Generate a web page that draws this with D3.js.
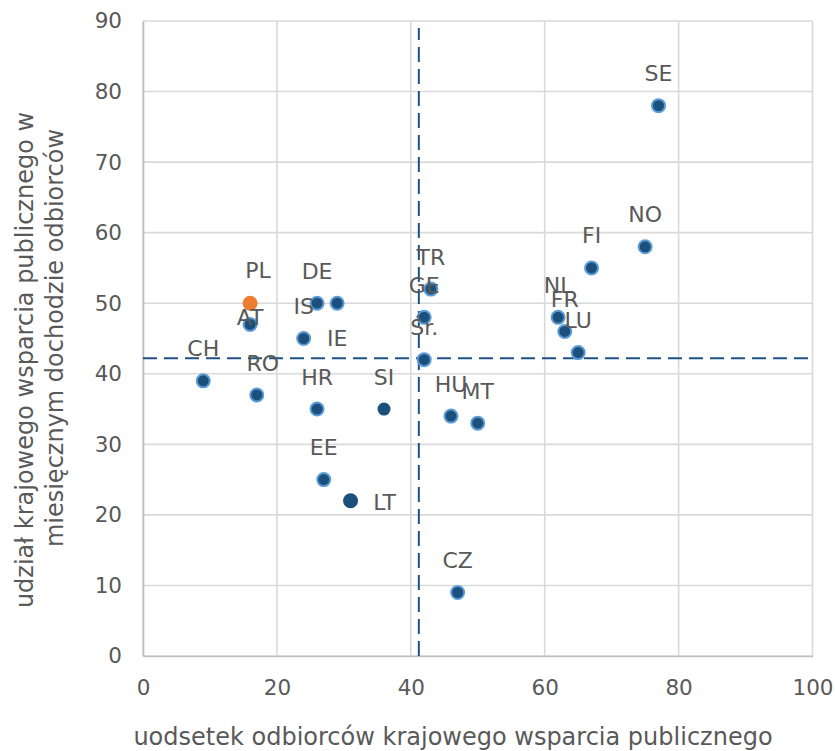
<!DOCTYPE html>
<html><head><meta charset="utf-8">
<script src="https://cdn.jsdelivr.net/npm/d3@7"></script>
<style>body{margin:0;background:#fff}svg{display:block}text{font-family:"DejaVu Sans",sans-serif;fill:#595959}</style>
</head><body>
<svg id="c" width="835" height="751"></svg>
<script>
// ---- data ----
const countries = ["SE","NO","FI","NL","FR","LU","TR","GE","Śr.","HU","MT","CZ","PL","AT","DE","IE","IS","CH","RO","HR","SI","EE","LT"];
const recipientShare = [77,75,67,62,63,65,43,42,42,46,50,47,16,16,26,29,24,9,17,26,36,27,31];
const incomeShare    = [78,58,55,48,46,43,52,48,42,34,33,9,50,47,50,50,45,39,37,35,35,25,22];
const meanRecipientShare = 41.2;
const meanIncomeShare = 42.2;
const xTicks = [0,20,40,60,80,100];
const yTicks = [0,10,20,30,40,50,60,70,80,90];
const xTitle = "uodsetek odbiorców krajowego wsparcia publicznego";
const yTitleLines = ["udział krajowego wsparcia publicznego w","miesięcznym dochodzie odbiorców"];

// ---- layout / style (not data) ----
const FONT = "'DejaVu Sans',sans-serif";
const highlight = {"PL":"orange","SI":"plain","LT":"plainLarge"};
const labelPlace = {"PL":[8,-33],"AT":[0,-7],"IE":[0,35],"LT":[34,2],"RO":[6,-31]};
const defaultPlace = [0,-32];

const svg = d3.select("#c");
const x = d3.scaleLinear().domain([0,100]).range([143,812.5]);
const y = d3.scaleLinear().domain([0,90]).range([656,21]);

// gridlines
const g = svg.append("g");
g.selectAll(".gx").data(xTicks).join("line")
  .attr("x1",d=>x(d)).attr("x2",d=>x(d)).attr("y1",y(0)).attr("y2",y(90))
  .attr("stroke","#d9d9d9").attr("stroke-width",1.6);
g.selectAll(".gy").data(yTicks).join("line")
  .attr("x1",x(0)).attr("x2",x(100)).attr("y1",d=>y(d)).attr("y2",d=>y(d))
  .attr("stroke","#d9d9d9").attr("stroke-width",1.6);

// axes (labels only)
const xAxis = d3.axisBottom(x).tickValues(xTicks).tickSize(0).tickPadding(24).tickFormat(d3.format("d"));
const gx = svg.append("g").attr("transform",`translate(0,${y(0)})`).call(xAxis);
gx.select(".domain").attr("stroke","#bfbfbf").attr("stroke-width",1.6);
gx.selectAll("text").attr("font-size",21.5).style("font-family",FONT).attr("fill","#595959");
const yAxis = d3.axisLeft(y).tickValues(yTicks).tickSize(0).tickPadding(21).tickFormat(d3.format("d"));
const gy = svg.append("g").attr("transform",`translate(${x(0)},0)`).call(yAxis);
gy.select(".domain").attr("stroke","#bfbfbf").attr("stroke-width",1.6);
gy.selectAll("text").attr("font-size",21.5).style("font-family",FONT).attr("fill","#595959");

// mean lines
svg.append("line").attr("x1",x(0)).attr("x2",x(100)).attr("y1",y(meanIncomeShare)).attr("y2",y(meanIncomeShare))
  .attr("stroke","#1f5283").attr("stroke-width",2).attr("stroke-dasharray","14,7");
svg.append("line").attr("x1",x(meanRecipientShare)).attr("x2",x(meanRecipientShare)).attr("y1",y(0)).attr("y2",y(89))
  .attr("stroke","#1f5283").attr("stroke-width",2).attr("stroke-dasharray","15,7");

// points
const pts = countries.map((c,i)=>({c, x:recipientShare[i], y:incomeShare[i]}));
svg.append("g").selectAll("circle").data(pts).join("circle")
  .attr("cx",d=>x(d.x)).attr("cy",d=>y(d.y))
  .attr("r",d=> highlight[d.c]==="orange"||highlight[d.c]==="plainLarge" ? 7.5 : 6.5)
  .attr("fill",d=> highlight[d.c]==="orange" ? "#ed7d31" : "#1b4f7c")
  .attr("stroke",d=> highlight[d.c] ? "none" : "#5b9bd5")
  .attr("stroke-width",2);

// labels
svg.append("g").selectAll("text").data(pts).join("text")
  .attr("x",d=>x(d.x)+(labelPlace[d.c]||defaultPlace)[0])
  .attr("y",d=>y(d.y)+(labelPlace[d.c]||defaultPlace)[1])
  .attr("text-anchor","middle").attr("dominant-baseline","central")
  .attr("font-size",22).text(d=>d.c);

// titles
svg.append("text").attr("x",453).attr("y",745).attr("text-anchor","middle")
  .attr("font-size",24).text(xTitle);
svg.append("text").attr("transform","translate(33,360) rotate(-90)").attr("text-anchor","middle")
  .attr("font-size",24).text(yTitleLines[0]);
svg.append("text").attr("transform","translate(63,338) rotate(-90)").attr("text-anchor","middle")
  .attr("font-size",24).text(yTitleLines[1]);
</script>
</body></html>
